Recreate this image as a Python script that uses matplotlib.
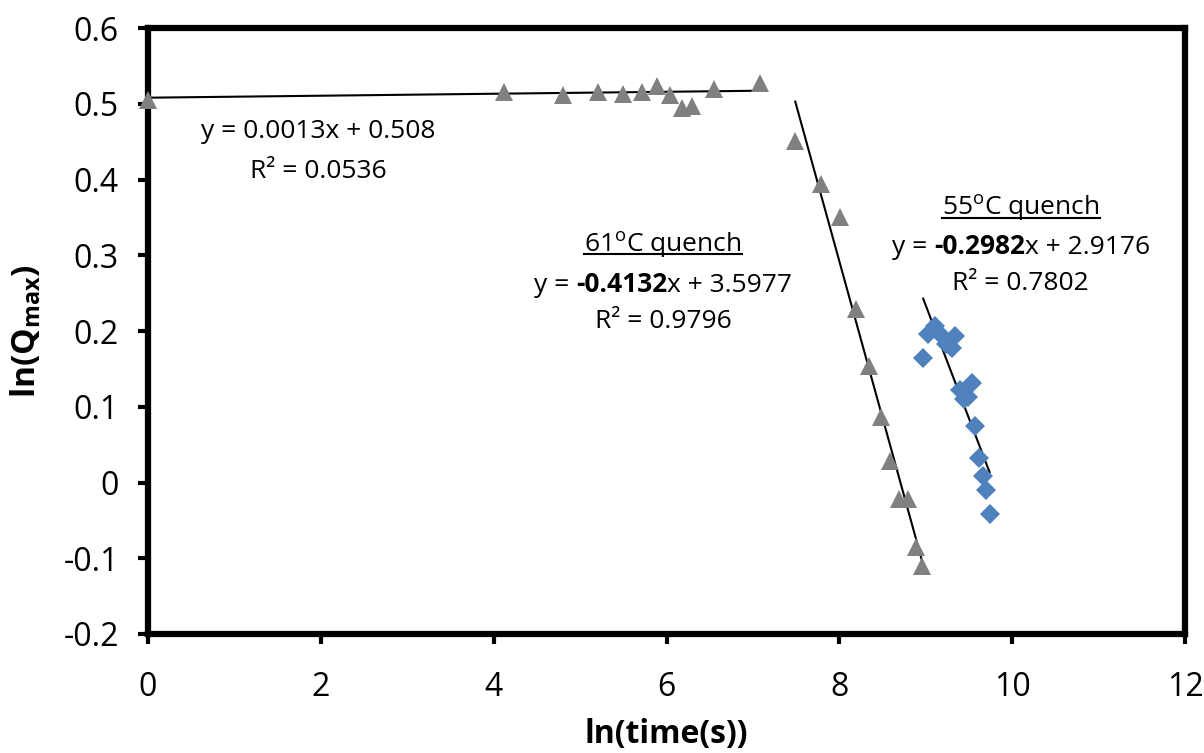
import matplotlib
matplotlib.use('Agg')
import matplotlib.pyplot as plt
import numpy as np
from matplotlib.lines import Line2D
from matplotlib.offsetbox import TextArea, HPacker, AnnotationBbox

FONT = 'Open Sans'
plt.rcParams['font.family'] = [FONT, 'DejaVu Sans']
plt.rcParams['mathtext.fontset'] = 'custom'
plt.rcParams['mathtext.rm'] = FONT
plt.rcParams['mathtext.bf'] = FONT + ':bold'
plt.rcParams['mathtext.it'] = FONT + ':italic'

# Dati: plateau (triangoli grigi)
x_piatto = np.array([0.0, 4.12, 4.80, 5.21, 5.50, 5.72, 5.89, 6.04, 6.18, 6.30, 6.55, 7.08])
y_piatto = np.array([0.505, 0.516, 0.512, 0.516, 0.513, 0.515, 0.524, 0.512, 0.494, 0.497, 0.520, 0.527])

# Dati: tempra 61 C (triangoli grigi in discesa)
x_61 = np.array([7.49, 7.79, 8.01, 8.19, 8.34, 8.48, 8.59, 8.69, 8.80, 8.89, 8.96])
y_61 = np.array([0.451, 0.394, 0.350, 0.229, 0.154, 0.086, 0.028, -0.022, -0.022, -0.085, -0.110])

# Dati: tempra 55 C (rombi blu)
x_55 = np.array([8.97, 9.03, 9.11, 9.17, 9.23, 9.30, 9.34, 9.40, 9.44, 9.49, 9.54, 9.57, 9.62, 9.66, 9.70, 9.74])
y_55 = np.array([0.165, 0.196, 0.206, 0.196, 0.183, 0.178, 0.193, 0.122, 0.110, 0.113, 0.132, 0.075, 0.033, 0.009, -0.010, -0.042])

# Rette di regressione (pendenza, intercetta)
fit_piatto = (0.0013, 0.508)
fit_61 = (-0.4132, 3.5977)
fit_55 = (-0.2982, 2.9176)

x_ticks = [0, 2, 4, 6, 8, 10, 12]
y_ticks = [-0.2, -0.1, 0, 0.1, 0.2, 0.3, 0.4, 0.5, 0.6]
y_tick_labels = ['-0.2', '-0.1', '0', '0.1', '0.2', '0.3', '0.4', '0.5', '0.6']

grigio = '#808080'
blu = '#4f81bd'

fig = plt.figure(figsize=(12.04, 7.53), dpi=100)
ax = fig.add_axes([148 / 1204, 1 - 634 / 753, (1185 - 148) / 1204, (634 - 28) / 753])

ax.plot(x_piatto, y_piatto, '^', color=grigio, markersize=12.5, markeredgewidth=0, clip_on=False, zorder=3)
ax.plot(x_61, y_61, '^', color=grigio, markersize=12.5, markeredgewidth=0, zorder=3)
ax.plot(x_55, y_55, 'D', color=blu, markersize=10, markeredgewidth=0, zorder=3)

for xs, (m, q) in [(x_piatto, fit_piatto), (x_61, fit_61), (x_55, fit_55)]:
    xr = np.array([xs.min(), xs.max()])
    ax.plot(xr, m * xr + q, color='black', linewidth=1.5, zorder=2)

ax.set_xlim(0, 12)
ax.set_ylim(-0.2, 0.6)
ax.set_xticks(x_ticks)
ax.set_yticks(y_ticks)
ax.set_yticklabels(y_tick_labels)
ax.tick_params(direction='out', length=7, width=3, labelsize=23, pad=14)
ax.tick_params(axis='x', pad=20)
for sp in ax.spines.values():
    sp.set_linewidth(4.5)

ax.set_xlabel('ln(time(s))', fontsize=23, fontweight='bold', labelpad=10)
ax.set_ylabel(r'$\mathbf{ln(Q_{max})}$', fontsize=24, labelpad=14)

fs = 19


def equazione(x, y, coeff, resto):
    parti = [TextArea('y = ', textprops=dict(fontsize=fs)),
             TextArea(coeff, textprops=dict(fontsize=fs, fontweight='bold')),
             TextArea(resto, textprops=dict(fontsize=fs))]
    box = HPacker(children=parti, align='baseline', pad=0, sep=0)
    ax.add_artist(AnnotationBbox(box, (x, y), xycoords='data', frameon=False,
                                 box_alignment=(0.5, 0.5), pad=0))


ax.text(1.97, 0.463, 'y = 0.0013x + 0.508', fontsize=fs, ha='center', va='center')
ax.text(1.97, 0.411, 'R² = 0.0536', fontsize=fs, ha='center', va='center')

titoli = []
titoli.append(ax.text(5.96, 0.305, r'61$^{\mathrm{o}}$C quench', fontsize=fs, ha='center', va='baseline'))
equazione(5.96, 0.262, '-0.4132', 'x + 3.5977')
ax.text(5.96, 0.213, 'R² = 0.9796', fontsize=fs, ha='center', va='center')

titoli.append(ax.text(10.1, 0.353, r'55$^{\mathrm{o}}$C quench', fontsize=fs, ha='center', va='baseline'))
equazione(10.1, 0.312, '-0.2982', 'x + 2.9176')
ax.text(10.1, 0.263, 'R² = 0.7802', fontsize=fs, ha='center', va='center')

# sottolineatura dei titoli
fig.canvas.draw()
r = fig.canvas.get_renderer()
for t in titoli:
    bb = t.get_window_extent(renderer=r)
    base = ax.transData.transform(t.get_position())[1]
    yl = base - 3
    (x0, y0), (x1, _) = fig.transFigure.inverted().transform([[bb.x0, yl], [bb.x1, yl]])
    fig.add_artist(Line2D([x0, x1], [y0, y0], color='black', linewidth=1.5, transform=fig.transFigure))

fig.savefig('out.png', dpi=100)
